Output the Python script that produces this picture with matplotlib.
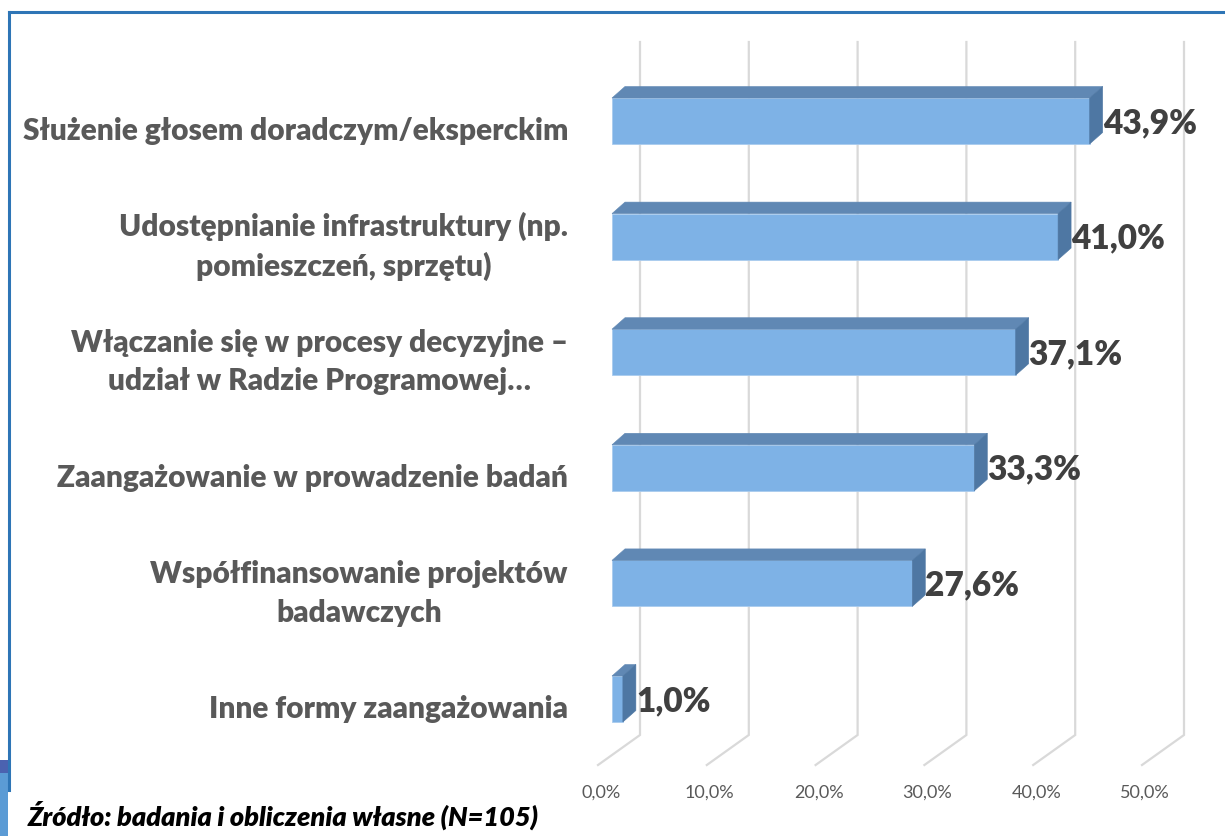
"""Formy zaangażowania - 3D-style horizontal bar chart (Excel look)."""
import matplotlib
matplotlib.use("Agg")
import matplotlib.pyplot as plt
from matplotlib.patches import Polygon, Rectangle

plt.rcParams["font.family"] = ["Lato", "DejaVu Sans"]

categories = [
    "Służenie głosem doradczym/eksperckim",
    "Udostępnianie infrastruktury (np.\npomieszczeń, sprzętu)",
    "Włączanie się w procesy decyzyjne –\nudział w Radzie Programowej…",
    "Zaangażowanie w prowadzenie badań",
    "Współfinansowanie projektów\nbadawczych",
    "Inne formy zaangażowania",
]
values = [43.9, 41.0, 37.1, 33.3, 27.6, 1.0]
ticks = [0, 10, 20, 30, 40, 50]
tick_labels = ["0,0%", "10,0%", "20,0%", "30,0%", "40,0%", "50,0%"]
source = "Źródło: badania i obliczenia własne (N=105)"

# pixel geometry of the original (1225x836)
W, H = 1225, 836
X0 = 612          # px of 0% on bar front face
PX_PCT = 10.88    # px per percentage point
Y0 = 121          # px of first bar centre
STEP = 115.6      # px between categories

FRONT = "#7EB2E6"
TOP = "#6088B4"
SIDE = "#4E77A3"
GRID = "#D9D9D9"
TXT = "#595959"

fig = plt.figure(figsize=(W / 100, H / 100), dpi=100)
ax = fig.add_axes([0, 0, 1, 1])
ax.set_xlim(-X0 / PX_PCT, (W - X0) / PX_PCT)
ax.set_ylim((H - Y0) / STEP, -Y0 / STEP)
ax.axis("off")

dx = 13 / PX_PCT      # bar depth
dy = 11.5 / STEP
wall_dx = 28 / PX_PCT  # back wall offset
floor_dx = -42 / PX_PCT
floor_dy = 30 / STEP
grid_top = (42 - Y0) / STEP
grid_bot = (735 - Y0) / STEP

# back wall gridlines + floor diagonals
for t, lab in zip(ticks, tick_labels):
    xb = t + wall_dx
    ax.plot([xb, xb, xb + floor_dx], [grid_top, grid_bot, grid_bot + floor_dy],
            color=GRID, lw=1.6, zorder=1, solid_joinstyle="miter")
    ax.text(xb + floor_dx + 3 / PX_PCT, (793 - Y0) / STEP, lab, ha="center",
            va="center", fontsize=13, color=TXT)

h = 46 / STEP
for i, (cat, v) in enumerate(zip(categories, values)):
    top, bot = i - h / 2, i + h / 2
    ax.add_patch(Rectangle((0, top), v, h, facecolor=FRONT, edgecolor="#A9CBEE",
                           lw=0.6, zorder=3))
    ax.add_patch(Polygon([(0, top), (v, top), (v + dx, top - dy), (dx, top - dy)],
                         closed=True, facecolor=TOP, edgecolor=TOP, lw=0.4, zorder=3))
    ax.add_patch(Polygon([(v, top), (v, bot), (v + dx, bot - dy), (v + dx, top - dy)],
                         closed=True, facecolor=SIDE, edgecolor=SIDE, lw=0.4, zorder=3))
    ax.text(v + dx, i + 2 / STEP, f"{v:.1f}%".replace(".", ","), ha="left",
            va="center", fontsize=24, fontweight="heavy", color="#404040", zorder=4)
    ax.text((568 - X0) / PX_PCT, i + 10 / STEP, cat, ha="right", va="center",
            multialignment="center", fontsize=21.5, fontweight="heavy", color=TXT,
            linespacing=1.45)

# frame lines and the corner block
fig.add_artist(plt.Line2D([9 / W, 1], [1 - 12 / H, 1 - 12 / H], color="#2E75B6",
                          lw=2.2, transform=fig.transFigure))
fig.add_artist(plt.Line2D([9 / W, 9 / W], [1 - 12 / H, 1 - 790 / H], color="#2E75B6",
                          lw=2.2, transform=fig.transFigure))
fig.add_artist(Rectangle((0, 0), 8 / W, 1 - 773 / H, facecolor="#5B9BD5",
                         edgecolor="none", transform=fig.transFigure))
fig.add_artist(Rectangle((0, 1 - 773 / H), 8 / W, 13 / H, facecolor="#4B62B0",
                         edgecolor="none", transform=fig.transFigure))

fig.text(28 / W, 1 - 815 / H, source, ha="left", va="center", fontsize=19.5,
         fontweight="heavy", fontstyle="italic", color="black")

fig.savefig("out.png", dpi=100)
